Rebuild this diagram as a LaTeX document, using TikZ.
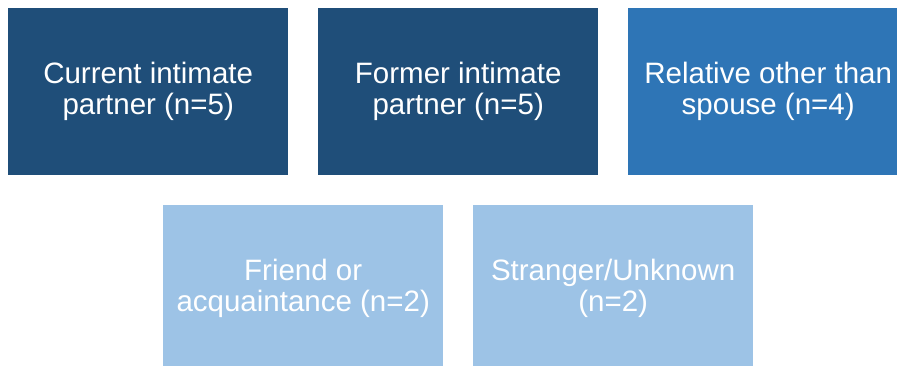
\documentclass[tikz,border=0pt]{standalone}
\usepackage{fontspec}
\setmainfont{Liberation Sans}
\definecolor{darkblue}{HTML}{1F4E79}
\definecolor{midblue}{HTML}{2E75B6}
\definecolor{lightblue}{HTML}{9DC3E6}
\tikzset{
    groupbox/.style={anchor=north west, minimum width=280pt, minimum height=167pt,
        inner sep=0pt, text=white, align=center,
        font=\fontsize{29.5}{31}\selectfont,
        execute at begin node={\rule{0pt}{26pt}}}
}
\begin{document}
\begin{tikzpicture}[x=1pt,y=-1pt]
        \path[use as bounding box] (0,0) rectangle (897,366);
        \clip (0,0) rectangle (897,366);
        % top row
        \node[groupbox,fill=darkblue] (current) at (8,8) {Current intimate\\partner (n=5)};
        \node[groupbox,fill=darkblue] (former) at (318,8) {Former intimate\\partner (n=5)};
        \node[groupbox,fill=midblue] (relative) at (628,8) {Relative other than\\spouse (n=4)};
        % bottom row
        \node[groupbox,fill=lightblue] (friend) at (163,205) {Friend or\\acquaintance (n=2)};
        \node[groupbox,fill=lightblue] (stranger) at (473,205) {Stranger/Unknown\\(n=2)};
    \end{tikzpicture}
\end{document}
